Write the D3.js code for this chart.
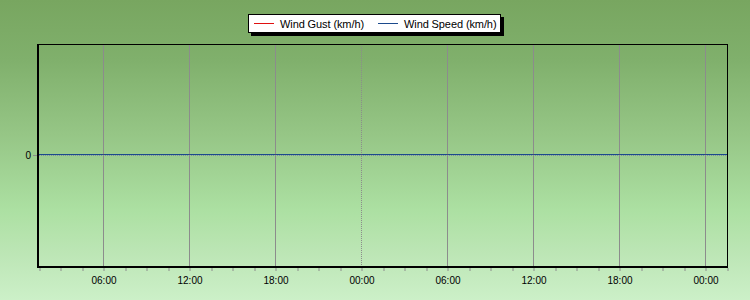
<!DOCTYPE html>
<html>
<head>
<meta charset="utf-8">
<script src="https://cdn.jsdelivr.net/npm/d3@7"></script>
<style>
    body { margin: 0; padding: 0; overflow: hidden; }
    svg { display: block; font-family: "Liberation Sans", Arial, sans-serif; }
</style>
</head>
<body>
<div id="root"></div>
<script>
// data: both series sit on zero for the whole window
let times = ['2024-01-01 01:30', '2024-01-01 06:00', '2024-01-01 12:00', '2024-01-01 18:00',
    '2024-01-02 00:00', '2024-01-02 06:00', '2024-01-02 12:00', '2024-01-02 18:00',
    '2024-01-03 00:00', '2024-01-03 01:30'];
let windGust = [0, 0, 0, 0, 0, 0, 0, 0, 0, 0];
let windSpeed = [0, 0, 0, 0, 0, 0, 0, 0, 0, 0];
let seriesNames = ['Wind Gust (km/h)', 'Wind Speed (km/h)'];
let seriesColors = ['#e01010', '#1c4a8c'];
let yTicks = [0];

let parseTime = d3.timeParse('%Y-%m-%d %H:%M'),
    dates = times.map(parseTime),
    width = 750,
    height = 300,
    plotLeft = 39, plotRight = 727, plotTop = 44, plotBottom = 266;

let svg = d3.select('#root').append('svg')
    .attr('width', width)
    .attr('height', height);

// background gradient
let grad = svg.append('defs').append('linearGradient')
    .attr('id', 'bg').attr('x1', 0).attr('y1', 0).attr('x2', 0).attr('y2', 1);
[[0, '#78a660'], [0.2, '#80b06c'], [0.45, '#96c686'], [0.7, '#ace0a2'], [0.85, '#bde6b6'], [1, '#ccf0c8']]
    .forEach(s => grad.append('stop').attr('offset', s[0]).attr('stop-color', s[1]));
svg.append('rect').attr('width', width).attr('height', height).attr('fill', 'url(#bg)');

let x = d3.scaleTime()
    .domain(d3.extent(dates))
    .range([plotLeft, plotRight]);

let y = d3.scaleLinear()
    .domain([-1, 1])
    .range([plotBottom, plotTop]);

// vertical grid lines every 6 hours (the day change in the middle is dotted)
let majorTicks = x.ticks(d3.timeHour.every(6));
svg.append('g')
    .selectAll('line')
    .data(majorTicks)
    .enter()
    .append('line')
    .attr('x1', d => Math.floor(x(d)) + 0.5)
    .attr('x2', d => Math.floor(x(d)) + 0.5)
    .attr('y1', plotTop)
    .attr('y2', plotBottom)
    .attr('stroke', '#8c8c8c')
    .attr('stroke-dasharray', (d, i) => i === 3 ? '1,1' : null);

// horizontal grid at zero
svg.append('line')
    .attr('x1', plotLeft).attr('x2', plotRight)
    .attr('y1', y(0) + 0.5).attr('y2', y(0) + 0.5)
    .attr('stroke', '#7d8ca0')
    .attr('stroke-dasharray', '1,1');

// series lines
let line = d3.line()
    .x((d, i) => x(dates[i]))
    .y(d => Math.floor(y(d)) - 0.5);

svg.append('path')
    .datum(windGust)
    .attr('d', line)
    .attr('fill', 'none')
    .attr('stroke', seriesColors[0])
    .attr('stroke-width', 1);

svg.append('path')
    .datum(windSpeed)
    .attr('d', line)
    .attr('fill', 'none')
    .attr('stroke', seriesColors[1])
    .attr('stroke-width', 1);

// frame: thin top/right, thick left/bottom
svg.append('line').attr('x1', plotLeft).attr('x2', plotRight + 1).attr('y1', plotTop + 0.5).attr('y2', plotTop + 0.5)
    .attr('stroke', '#000');
svg.append('line').attr('x1', plotRight + 0.5).attr('x2', plotRight + 0.5).attr('y1', plotTop).attr('y2', plotBottom + 2)
    .attr('stroke', '#000');

// bottom axis: minor ticks every 90 minutes, labels every 6 hours
let minorTicks = d3.range(0, 33).map(i => d3.timeMinute.offset(dates[0], i * 90));
let xAxis = svg.append('g')
    .attr('transform', 'translate(0,' + (plotBottom + 2) + ')')
    .call(d3.axisBottom(x)
        .tickValues(minorTicks)
        .tickSize(3)
        .tickPadding(6)
        .tickFormat(d => (d.getHours() % 6 === 0 && d.getMinutes() === 0) ? d3.timeFormat('%H:%M')(d) : ''));
xAxis.select('.domain').remove();
xAxis.selectAll('.tick line').attr('stroke', '#8c8c8c')
    .attr('transform', d => 'translate(' + (Math.floor(x(d)) + 0.5 - x(d)) + ',0)');
xAxis.selectAll('.tick text')
    .attr('font-size', 10)
    .attr('font-family', '"Liberation Sans", Arial, sans-serif')
    .attr('fill', '#000')
    .attr('dy', null)
    .attr('y', 15.5);

// left axis
let yAxis = svg.append('g')
    .attr('transform', 'translate(37,0)')
    .call(d3.axisLeft(y).tickValues(yTicks).tickSize(4).tickPadding(2).tickFormat(d3.format('d')));
yAxis.select('.domain').remove();
yAxis.selectAll('.tick line').attr('stroke', '#8c8c8c');
yAxis.selectAll('.tick text')
    .attr('font-size', 10)
    .attr('font-family', '"Liberation Sans", Arial, sans-serif')
    .attr('fill', '#000');

svg.append('rect').attr('x', 37).attr('y', plotTop).attr('width', 2).attr('height', plotBottom - plotTop + 2).attr('fill', '#000');
svg.append('rect').attr('x', 37).attr('y', plotBottom).attr('width', plotRight - 37 + 1).attr('height', 2).attr('fill', '#000');

// legend
let legend = svg.append('g').attr('transform', 'translate(248,14)');
legend.append('rect').attr('x', 3).attr('y', 3).attr('width', 253).attr('height', 19).attr('fill', '#000');
legend.append('rect').attr('x', 0.5).attr('y', 0.5).attr('width', 252).attr('height', 18)
    .attr('fill', '#fff').attr('stroke', '#000');

let legendX = [6, 130];
seriesNames.forEach((name, i) => {
    let g = legend.append('g').attr('transform', 'translate(' + legendX[i] + ',0)');
    g.append('line').attr('x1', 0).attr('x2', 20).attr('y1', 9.5).attr('y2', 9.5)
        .attr('stroke', seriesColors[i]);
    g.append('text').attr('x', 26).attr('y', 13.5)
        .attr('font-size', 11)
        .attr('letter-spacing', '-0.1px')
        .attr('fill', '#000')
        .text(name);
});
</script>
</body>
</html>
